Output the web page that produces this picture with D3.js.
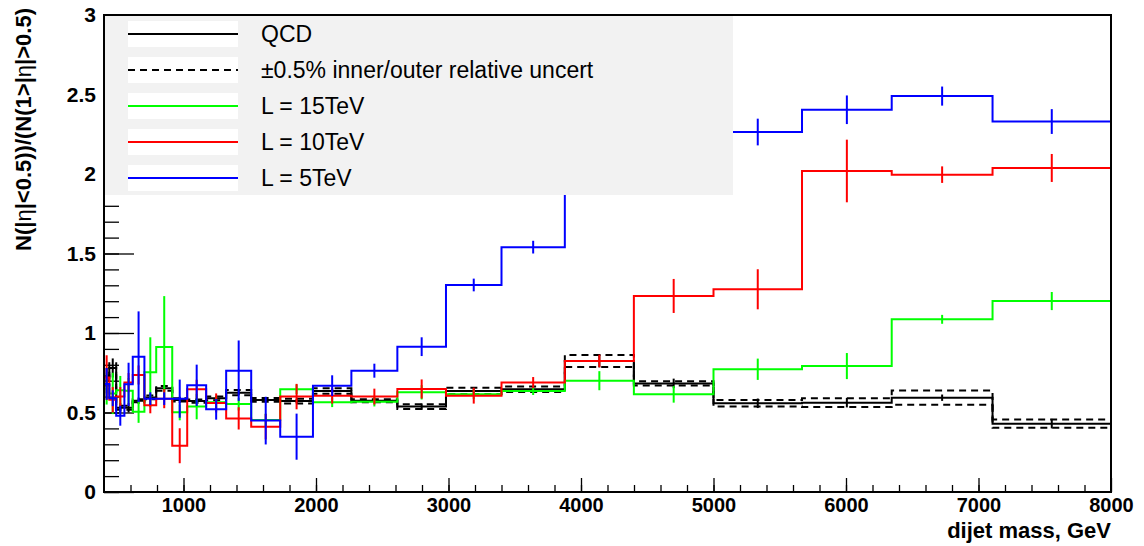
<!DOCTYPE html>
<html>
<head>
<meta charset="utf-8">
<script src="https://cdn.jsdelivr.net/npm/d3@7"></script>
<style>
    body { margin: 0; background: #fff; }
    svg { display: block; }
    text { font-family: "Liberation Sans", Arial, Helvetica, sans-serif; }
</style>
</head>
<body>
<svg id="chart" width="1144" height="546"></svg>
<script>
// bin edges in GeV (variable width)
var binEdges = [400, 440, 492, 554, 617, 705, 794, 915, 1028, 1171, 1322, 1511, 1730,
    1977, 2267, 2614, 2981, 3400, 3878, 4399, 5000, 5668, 6345, 7106, 8000];

var qcdValues = [0.70, 0.78, 0.53, 0.53, 0.574, 0.595, 0.652, 0.579, 0.572, 0.589, 0.625, 0.579,
    0.572, 0.635, 0.574, 0.537, 0.635, 0.646, 0.824, 0.683, 0.558, 0.562, 0.593, 0.430];
var qcdErrors = [0.08, 0.06, 0.03, 0.03, 0.02, 0.02, 0.02, 0.02, 0.015, 0.015, 0.015, 0.015,
    0.015, 0.015, 0.015, 0.02, 0.02, 0.02, 0.04, 0.03, 0.03, 0.03, 0.02, 0.03];
var qcdUncert = [0.03, 0.03, 0.012, 0.012, 0.01, 0.012, 0.015, 0.01, 0.01, 0.012, 0.017, 0.012,
    0.015, 0.017, 0.01, 0.015, 0.02, 0.017, 0.038, 0.013, 0.021, 0.027, 0.045, 0.026];

var l15Values = [0.65, 0.62, 0.64, 0.637, 0.505, 0.753, 0.912, 0.501, 0.537, 0.565, 0.553, 0.453,
    0.646, 0.564, 0.568, 0.627, 0.614, 0.635, 0.70, 0.614, 0.772, 0.792, 1.086, 1.201];
var l15Errors = [0.10, 0.13, 0.09, 0.08, 0.07, 0.22, 0.32, 0.05, 0.08, 0.04, 0.04, 0.04,
    0.03, 0.03, 0.03, 0.045, 0.03, 0.025, 0.06, 0.052, 0.067, 0.082, 0.028, 0.057];

var l10Values = [0.72, 0.58, 0.60, 0.688, 0.736, 0.545, 0.587, 0.291, 0.646, 0.56, 0.463, 0.411,
    0.60, 0.606, 0.600, 0.648, 0.606, 0.688, 0.824, 1.233, 1.275, 2.019, 1.996, 2.038];
var l10Errors = [0.14, 0.08, 0.06, 0.06, 0.06, 0.05, 0.06, 0.11, 0.06, 0.06, 0.07, 0.08,
    0.08, 0.05, 0.05, 0.06, 0.05, 0.035, 0.04, 0.107, 0.126, 0.197, 0.052, 0.088];

var l5Values = [0.68, 0.59, 0.48, 0.677, 0.851, 0.587, 0.587, 0.587, 0.671, 0.52, 0.763, 0.449,
    0.348, 0.669, 0.763, 0.914, 1.302, 1.54, 2.05, 2.2, 2.264, 2.404, 2.49, 2.33];
var l5Errors = [0.10, 0.05, 0.063, 0.136, 0.285, 0.04, 0.04, 0.12, 0.13, 0.065, 0.19, 0.15,
    0.145, 0.065, 0.044, 0.059, 0.04, 0.04, 0.10, 0.10, 0.084, 0.09, 0.06, 0.078];

var xTicks = [1000, 2000, 3000, 4000, 5000, 6000, 7000, 8000];
var yTicks = [0, 0.5, 1, 1.5, 2, 2.5, 3];

var legendLabels = ['QCD', '\u00b10.5% inner/outer relative uncert', 'L = 15TeV', 'L = 10TeV', 'L = 5TeV'];
var legendColors = ['#000000', '#000000', '#00ff00', '#ff0000', '#0000ff'];
var legendDashed = [false, true, false, false, false];

var svg = d3.select('#chart');
var x = d3.scaleLinear().domain([400, 8000]).range([104, 1111]);
var y = d3.scaleLinear().domain([0, 3]).range([492, 15]);
var frameBottom = y(0), frameTop = y(3), frameLeft = x(400), frameRight = x(8000);

svg.append('defs').append('clipPath').attr('id', 'frameClip')
    .append('rect')
    .attr('x', frameLeft).attr('y', frameTop)
    .attr('width', frameRight - frameLeft).attr('height', frameBottom - frameTop);

// axes: ticks point into the frame
var yMinor = d3.range(0, 31).map(function (d) { return d / 10; });
var xMinor = d3.range(600, 8000, 200);

svg.append('g')
    .attr('transform', 'translate(' + frameLeft + ',0)')
    .call(d3.axisLeft(y).tickValues(yMinor).tickSizeInner(-15).tickSizeOuter(0).tickFormat(''))
    .call(function (g) { g.select('.domain').remove(); });
svg.append('g')
    .attr('class', 'yAxis')
    .attr('transform', 'translate(' + frameLeft + ',0)')
    .call(d3.axisLeft(y).tickValues(yTicks).tickSizeInner(-30).tickSizeOuter(0).tickPadding(8)
        .tickFormat(function (d) { return String(d); }))
    .call(function (g) { g.select('.domain').remove(); });

svg.append('g')
    .attr('transform', 'translate(0,' + frameBottom + ')')
    .call(d3.axisBottom(x).tickValues(xMinor).tickSizeInner(-7).tickSizeOuter(0).tickFormat(''))
    .call(function (g) { g.select('.domain').remove(); });
svg.append('g')
    .attr('class', 'xAxis')
    .attr('transform', 'translate(0,' + frameBottom + ')')
    .call(d3.axisBottom(x).tickValues(xTicks).tickSizeInner(-14).tickSizeOuter(0).tickPadding(6)
        .tickFormat(function (d) { return String(d); }))
    .call(function (g) { g.select('.domain').remove(); });

svg.selectAll('.xAxis text, .yAxis text')
    .style('font-size', '20px')
    .style('font-weight', 'bold')
    .attr('fill', '#000');
svg.selectAll('.yAxis text').style('font-size', '21px');
svg.selectAll('.tick line').attr('stroke', '#000').attr('stroke-width', 1.3);

// histograms
var stepLine = d3.line()
    .x(function (d) { return x(d[0]); })
    .y(function (d) { return y(d[1]); })
    .curve(d3.curveStepAfter);

function stepPoints(values) {
    var pts = values.map(function (v, i) { return [binEdges[i], v]; });
    pts.push([binEdges[binEdges.length - 1], values[values.length - 1]]);
    return pts;
}

var plot = svg.append('g').attr('clip-path', 'url(#frameClip)');

function drawHist(values, errors, color, dash) {
    var g = plot.append('g');
    g.append('path')
        .datum(stepPoints(values))
        .attr('d', stepLine)
        .attr('fill', 'none')
        .attr('stroke', color)
        .attr('stroke-width', 2)
        .attr('stroke-dasharray', dash || null);
    if (!errors) return;
    g.selectAll('line')
        .data(values.map(function (v, i) {
            return { c: (binEdges[i] + binEdges[i + 1]) / 2, v: v, e: errors[i] };
        }))
        .enter().append('line')
        .attr('x1', function (d) { return x(d.c); })
        .attr('x2', function (d) { return x(d.c); })
        .attr('y1', function (d) { return y(d.v - d.e); })
        .attr('y2', function (d) { return y(d.v + d.e); })
        .attr('stroke', color)
        .attr('stroke-width', 2);
}

drawHist(qcdValues, qcdErrors, '#000');
drawHist(qcdValues.map(function (v, i) { return v + qcdUncert[i]; }), null, '#000', '7,5');
drawHist(qcdValues.map(function (v, i) { return v - qcdUncert[i]; }), null, '#000', '7,5');
drawHist(l15Values, l15Errors, '#00ff00');
drawHist(l10Values, l10Errors, '#ff0000');
drawHist(l5Values, l5Errors, '#0000ff');

// legend
var legend = svg.append('g').attr('class', 'legend');
legend.append('rect')
    .attr('x', frameLeft + 1).attr('y', frameTop)
    .attr('width', 733 - frameLeft - 1).attr('height', 195 - frameTop)
    .attr('fill', '#f2f2f2');

var entries = legend.selectAll('g.entry')
    .data(legendLabels)
    .enter().append('g')
    .attr('class', 'entry')
    .attr('transform', function (d, i) { return 'translate(0,' + (34 + i * 36) + ')'; });

entries.append('rect')
    .attr('x', 128).attr('y', -13)
    .attr('width', 110).attr('height', 26)
    .attr('fill', '#fff');
entries.append('line')
    .attr('x1', 128).attr('x2', 238)
    .attr('stroke', function (d, i) { return legendColors[i]; })
    .attr('stroke-width', 2)
    .attr('stroke-dasharray', function (d, i) { return legendDashed[i] ? '7,5' : null; });
entries.append('text')
    .attr('x', 261)
    .attr('dy', '0.35em')
    .style('font-size', '23px')
    .text(function (d) { return d; });

// frame
svg.append('rect')
    .attr('x', frameLeft).attr('y', frameTop)
    .attr('width', frameRight - frameLeft).attr('height', frameBottom - frameTop)
    .attr('fill', 'none')
    .attr('stroke', '#000')
    .attr('stroke-width', 2);

// titles
svg.append('text')
    .attr('x', frameRight)
    .attr('y', 538)
    .attr('text-anchor', 'end')
    .style('font-size', '22px')
    .style('font-weight', 'bold')
    .text('dijet mass, GeV');

var yTitle = svg.append('text')
    .attr('transform', 'translate(31,8) rotate(-90)')
    .attr('text-anchor', 'end')
    .style('font-size', '22px')
    .style('font-weight', 'bold');
yTitle.append('tspan').text('N(|');
yTitle.append('tspan').style('font-weight', 'normal').text('\u03b7');
yTitle.append('tspan').text('|<0.5))/(N(1>|');
yTitle.append('tspan').style('font-weight', 'normal').text('\u03b7');
yTitle.append('tspan').text('|>0.5)');
</script>
</body>
</html>
